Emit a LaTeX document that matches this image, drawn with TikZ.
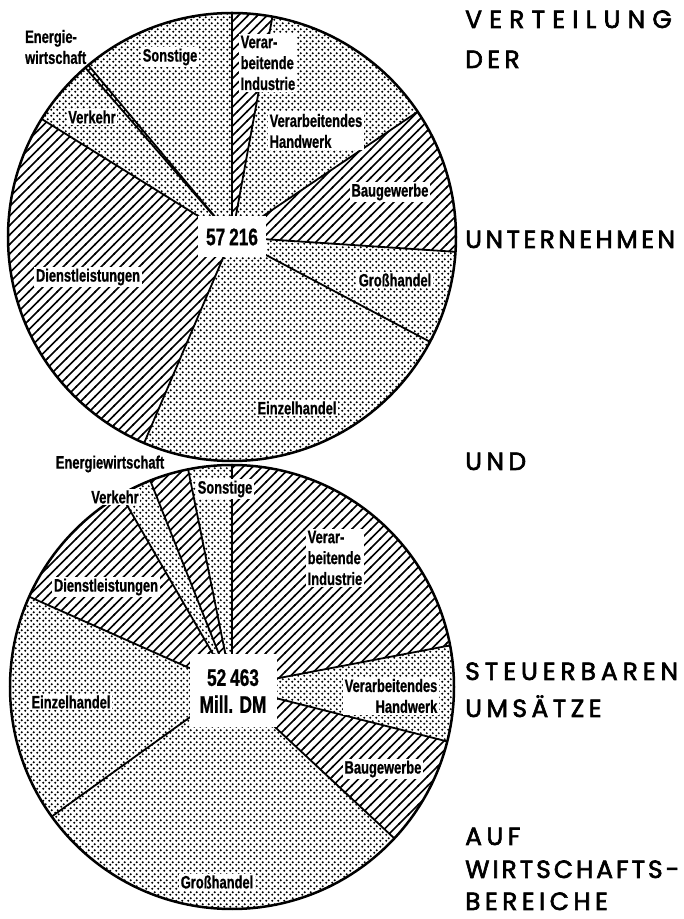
\documentclass[tikz,border=0pt]{standalone}
\usepackage{fontspec}
\usepackage{tikz}
\usetikzlibrary{patterns.meta}

\newfontfamily\schrift[FakeStretch=0.72,FakeBold=0.8]{Liberation Sans}
\newfontfamily\titelschrift[LetterSpace=18,FakeBold=2.5]{Poppins}

\tikzdeclarepattern{
  name=schraffur,
  type=uncolored,
  bottom left={(-1bp,-1bp)},
  top right={(10.5bp,10.5bp)},
  tile size={(9.5bp,9.5bp)},
  code={\draw[line width=1.5bp] (-1bp,-1bp) -- (10.5bp,10.5bp);}
}
\tikzdeclarepattern{
  name=raster,
  type=uncolored,
  bottom left={(0bp,0bp)},
  top right={(5.5bp,5.5bp)},
  tile size={(5.5bp,5.5bp)},
  code={\fill (1.375bp,1.375bp) circle (1.2bp); \fill (4.125bp,4.125bp) circle (1.2bp);}
}

\begin{document}
\begin{tikzpicture}[
  x=1bp,y=1bp,
  lbl/.style={fill=white,inner sep=1.5bp,align=left,font=\schrift\bfseries\fontsize{18}{21}\selectfont},
  frei/.style={inner sep=0pt,align=left,font=\schrift\bfseries\fontsize{18}{21}\selectfont},
  mitte/.style={fill=white,inner sep=0pt,align=center,font=\schrift\bfseries\fontsize{24}{27}\selectfont},
  titel/.style={anchor=base west,inner sep=0pt,font=\titelschrift\fontsize{25}{30}\selectfont},
  grenze/.style={line width=1.8bp},
  rand/.style={line width=2.5bp}
]
\useasboundingbox (0,0) rectangle (684,919);

% Unternehmen
\coordinate (u) at (232,682);
\foreach \von/\bis/\muster in {79.6/90/schraffur,34/79.6/raster,-3.8/34/schraffur,-27.9/-3.8/raster,-113.1/-27.9/raster,
    148.2/246.9/schraffur,130.9/148.2/raster,129.9/130.9/schraffur,90/129.9/raster}
  \fill[pattern=\muster] (u) -- ++(\von:224) arc[start angle=\von,end angle=\bis,radius=224] -- cycle;
\foreach \w in {90,79.6,34,-3.8,-27.9,-113.1,148.2,130.9,129.9}
  \draw[grenze] (u) -- ++(\w:224);
\draw[rand] (u) circle[radius=224];

\node[frei,anchor=west] (energieU) at (25,872) {Energie-\\wirtschaft};
\node[lbl] (sonstigeU) at (170,862) {Sonstige};
\node[lbl,anchor=west] (industrieU) at (239,856) {Verar-\\beitende\\Industrie};
\node[lbl] (verkehrU) at (92,802) {Verkehr};
\node[lbl,anchor=west] (handwerkU) at (268,788) {Verarbeitendes\\Handwerk};
\node[lbl] (bauU) at (390,727) {Baugewerbe};
\node[lbl] (grossU) at (395,639) {Großhandel};
\node[lbl] (dienstU) at (88,642) {Dienstleistungen};
\node[lbl] (einzelU) at (297,511) {Einzelhandel};
\node[mitte,minimum width=68bp,minimum height=41bp] (summeU) at (u) {57\,216};

% Umsaetze
\coordinate (s) at (232,232);
\foreach \von/\bis/\muster in {10.8/90/schraffur,-14.2/10.8/raster,-43/-14.2/schraffur,-144.3/-43/raster,156/215.7/raster,
    120/156/schraffur,111.6/120/raster,101.4/111.6/schraffur,90/101.4/raster}
  \fill[pattern=\muster] (s) -- ++(\von:222) arc[start angle=\von,end angle=\bis,radius=222] -- cycle;
\foreach \w in {90,10.8,-14.2,-43,215.7,156,120,111.6,101.4}
  \draw[grenze] (s) -- ++(\w:222);
\draw[rand] (s) circle[radius=222];

\node[frei] (energieS) at (110,455) {Energiewirtschaft};
\node[lbl] (verkehrS) at (115,422) {Verkehr};
\node[lbl] (sonstigeS) at (225,430) {Sonstige};
\node[lbl,anchor=west] (industrieS) at (306,361) {Verar-\\beitende\\Industrie};
\node[lbl] (dienstS) at (106,332) {Dienstleistungen};
\node[lbl] (einzelS) at (71,217) {Einzelhandel};
\node[lbl,anchor=east,align=right] (handwerkS) at (439,223) {Verarbeitendes\\Handwerk};
\node[lbl] (bauS) at (383,150) {Baugewerbe};
\node[lbl] (grossS) at (217,37) {Großhandel};
\node[mitte,minimum width=87bp,minimum height=73bp] (summeS) at (233,228) {52\,463\\Mill. DM};

% Titel
\node[titel] (t1) at (465,891) {\addfontfeature{LetterSpace=29}VERTEILUNG};
\node[titel] (t2) at (465,851) {DER};
\node[titel] (t3) at (465,671) {\addfontfeature{LetterSpace=14}UNTERNEHMEN};
\node[titel] (t4) at (465,449) {UND};
\node[titel] (t5) at (465,239) {\addfontfeature{LetterSpace=20}STEUERBAREN};
\node[titel] (t6) at (465,202) {UMSÄTZE};
\node[titel] (t7) at (465,74) {AUF};
\node[titel] (t8) at (465,41) {\addfontfeature{LetterSpace=12}WIRTSCHAFTS-};
\node[titel] (t9) at (465,9) {BEREICHE};
\end{tikzpicture}
\end{document}
